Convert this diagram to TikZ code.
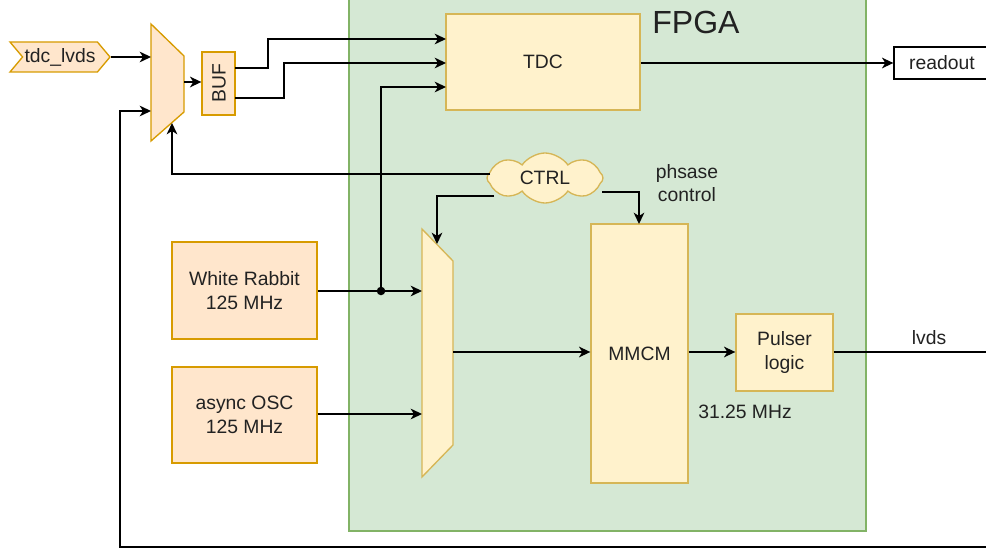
\documentclass[tikz,border=0pt]{standalone}
\usepackage{fontspec}
\setmainfont{Liberation Sans}
\usetikzlibrary{shapes.symbols,arrows.meta}
\definecolor{gfill}{HTML}{D5E8D4}
\definecolor{gline}{HTML}{82B366}
\definecolor{ofill}{HTML}{FFE6CC}
\definecolor{oline}{HTML}{D79B00}
\definecolor{yfill}{HTML}{FFF2CC}
\definecolor{yline}{HTML}{D6B656}
\definecolor{txt}{HTML}{222222}
\tikzset{
  wire/.style={line width=1.1pt, draw=black},
  arr/.style={wire, -{Stealth[length=8.5pt,width=8pt,inset=2.5pt]}},
  obox/.style={draw=oline, fill=ofill, line width=1pt, inner sep=0pt, align=center, text=txt},
  ybox/.style={draw=yline, fill=yfill, line width=1pt, inner sep=0pt, align=center, text=txt},
  lbl/.style={inner sep=0pt, align=center, text=txt},
}
\begin{document}
\begin{tikzpicture}[x=0.75pt,y=-0.75pt,font=\fontsize{14.5}{17.5}\selectfont]
\clip (0,0) rectangle (986,552);
% FPGA region
\node[draw=gline, fill=gfill, line width=1pt, minimum width=387.75pt, minimum height=405.75pt, inner sep=0pt] (fpga) at (607.5,260.5) {};
\node[lbl, font=\fontsize{24}{28}\selectfont] (fpgalbl) at (696,22) {FPGA};
% blocks
\node[ybox, minimum width=145.5pt, minimum height=72pt] (tdc) at (543,62) {TDC};
\node[draw=black, fill=white, line width=1pt, minimum width=72pt, minimum height=24pt, inner sep=0pt, text=txt] (readout) at (942,63) {readout};
\node[signal, signal to=east, signal from=west, signal pointer angle=100, draw=oline, fill=ofill, line width=1pt, minimum width=75pt, minimum height=22.5pt, inner sep=0pt, text=txt] (lvdsin) at (60,57) {tdc\_lvds};
\node[obox, minimum width=24.75pt, minimum height=47.25pt] (buf) at (218.5,83.5) {};
\node[lbl, rotate=90] (buflbl) at (219,83.5) {BUF};
\node[ybox, cloud, cloud puffs=8, cloud puff arc=110, aspect=2.3, minimum width=87pt, minimum height=37.5pt] (ctrl) at (545,178) {CTRL};
\node[lbl] (phase) at (687,183) {phsase\\control};
\node[obox, minimum width=108.75pt, minimum height=72.75pt] (wr) at (244.5,290.5) {White Rabbit\\125 MHz};
\node[obox, minimum width=108.75pt, minimum height=72pt] (osc) at (244.5,415) {async OSC\\125 MHz};
\node[ybox, minimum width=72.75pt, minimum height=194.25pt] (mmcm) at (639.5,353.5) {MMCM};
\node[ybox, minimum width=72.75pt, minimum height=57.75pt] (pulser) at (784.5,352.5) {Pulser\\logic};
\node[lbl] (lvdslbl) at (929,338) {lvds};
\node[lbl] (freq) at (745,412) {31.25 MHz};
% multiplexers
\draw[draw=oline, fill=ofill, line width=1pt] (151,24) -- (184,56) -- (184,112) -- (151,141) -- cycle;
\draw[draw=yline, fill=yfill, line width=1pt] (422,229) -- (453,261) -- (453,445) -- (422,477) -- cycle;
% mux1 ports
\coordinate (m1a) at (151,57);
\coordinate (m1b) at (151,111);
\coordinate (m1c) at (172,123);
\coordinate (m1o) at (184,82);
% mux2 ports
\coordinate (m2a) at (422,291);
\coordinate (m2b) at (422,414);
\coordinate (m2c) at (437,244);
\coordinate (m2o) at (453,352);
% misc points
\coordinate (b1) at (235,68);
\coordinate (b2) at (235,98);
\coordinate (t1) at (446,39);
\coordinate (t2) at (446,63);
\coordinate (t3) at (446,87);
\coordinate (jn) at (381,291);
\coordinate (c1) at (490,174);
\coordinate (c2) at (494,196);
\coordinate (c3) at (602,192);
\coordinate (mt) at (639,224);
\coordinate (out) at (990,352);
\coordinate (loopR) at (990,547);
\coordinate (loopL) at (120,547);
% connectors
\draw[arr] (lvdsin.east) -- (m1a);
\draw[arr] (m1o) -- (buf.west |- m1o);
\draw[arr] (b1) -- (268,68) -- (268,39) -- (t1);
\draw[arr] (b2) -- (284,98) -- (284,63) -- (t2);
\draw[arr] (tdc.east |- 0,63) -- (readout.west);
\draw[arr] (wr.east |- jn) -- (m2a);
\fill (jn) circle (3.2pt);
\draw[arr] (jn) -- (jn |- t3) -- (t3);
\draw[arr] (osc.east |- m2b) -- (m2b);
\draw[arr] (m2o) -- (mmcm.west |- m2o);
\draw[arr] (mmcm.east |- 0,352) -- (pulser.west |- 0,352);
\draw[wire] (pulser.east |- 0,352) -- (out);
\draw[arr] (c1) -- (m1c |- c1) -- (m1c);
\draw[arr] (c2) -- (m2c |- c2) -- (m2c);
\draw[arr] (c3) -- (mt |- c3) -- (mt);
\draw[arr] (loopR) -- (loopL) -- (loopL |- m1b) -- (m1b);
\end{tikzpicture}
\end{document}
